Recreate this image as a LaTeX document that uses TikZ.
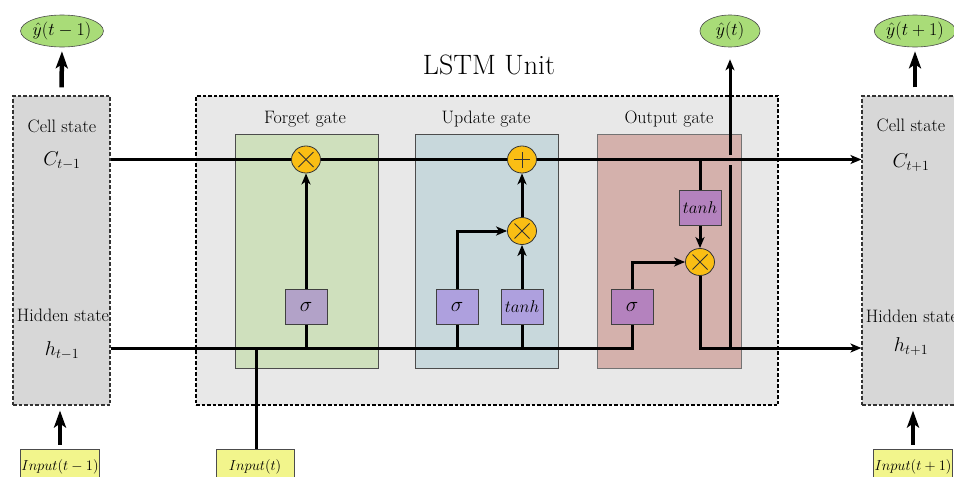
\documentclass[tikz,border=0pt]{standalone}
\usepackage{fix-cm}
\usetikzlibrary{arrows.meta,shapes.geometric}
\pgfdeclarelayer{bg}\pgfdeclarelayer{wires}
\pgfsetlayers{bg,wires,main}
\definecolor{outercol}{RGB}{232,232,232}
\definecolor{sidecol}{RGB}{215,215,215}
\definecolor{forgetcol}{RGB}{207,224,189}
\definecolor{updatecol}{RGB}{200,216,220}
\definecolor{outputcol}{RGB}{212,177,172}
\definecolor{fsigcol}{RGB}{178,162,200}
\definecolor{usigcol}{RGB}{174,160,222}
\definecolor{osigcol}{RGB}{180,130,190}
\definecolor{opcol}{RGB}{250,190,20}
\definecolor{ycol}{RGB}{169,220,120}
\definecolor{incol}{RGB}{242,245,140}
\newcommand\lblfont{\fontsize{18}{20}\selectfont}
\newcommand\mathfont{\fontsize{20}{22}\selectfont}
\begin{document}
\begin{tikzpicture}[x=1pt,y=-1pt,
  wire/.style={line width=3pt},
  arr/.style={wire,-{Stealth[length=11pt,width=9pt,inset=3pt]}},
  bigarr/.style={line width=4.5pt,-{Stealth[length=17pt,width=12pt,inset=4pt]}},
  sidebox/.style={draw=black!80,dashed,dash pattern=on 3.5pt off 2pt,line width=1.1pt,fill=sidecol,minimum width=97pt,minimum height=309pt,inner sep=0},
  gatebox/.style={draw=black!70,line width=1pt,minimum height=234pt,inner sep=0},
  fn/.style={draw=black!75,line width=1pt,minimum width=42pt,minimum height=35pt,inner sep=0,font=\fontsize{17}{19}\selectfont},
  sig/.style={fn,font=\fontsize{21}{23}\selectfont},
  opnode/.style={ellipse,draw=black!80,fill=opcol,minimum width=29pt,minimum height=27pt,inner sep=0,line width=0.8pt},
  timesop/.style={opnode,path picture={
     \draw[line width=1pt] ([shift={(-7.5pt,-7.5pt)}]path picture bounding box.center) -- ([shift={(7.5pt,7.5pt)}]path picture bounding box.center);
     \draw[line width=1pt] ([shift={(-7.5pt,7.5pt)}]path picture bounding box.center) -- ([shift={(7.5pt,-7.5pt)}]path picture bounding box.center);}},
  plusop/.style={opnode,path picture={
     \draw[line width=1pt] ([shift={(-8pt,0pt)}]path picture bounding box.center) -- ([shift={(8pt,0pt)}]path picture bounding box.center);
     \draw[line width=1pt] ([shift={(0pt,-8pt)}]path picture bounding box.center) -- ([shift={(0pt,8pt)}]path picture bounding box.center);}},
  yhat/.style={ellipse,draw=black!70,fill=ycol,minimum width=60pt,minimum height=32pt,inner sep=0pt,line width=0.6pt,font=\fontsize{18}{20}\selectfont},
  inbox/.style={draw=black!70,fill=incol,line width=0.8pt,minimum width=78pt,minimum height=36pt,inner sep=1pt,font=\fontsize{14.5}{16}\selectfont},
  lbl/.style={font=\lblfont,inner sep=1pt},
  mlbl/.style={font=\mathfont,inner sep=1pt}
]
\useasboundingbox (0,0) rectangle (954,477);

\begin{pgfonlayer}{bg}
  \node[draw=black,dashed,dash pattern=on 3.5pt off 2pt,line width=1.2pt,fill=outercol,minimum width=582pt,minimum height=309pt,inner sep=0] (outer) at (487,250.5) {};
  \node[gatebox,fill=forgetcol,minimum width=143pt] (fgate) at (306.5,251) {};
  \node[gatebox,fill=updatecol,minimum width=143pt] (ugate) at (486.5,251) {};
  \node[gatebox,fill=outputcol,minimum width=144pt,draw=black!55] (ogate) at (669,251) {};
  \node[sidebox] (lbox) at (61.5,250.5) {};
  \node[sidebox] (rbox) at (910.5,250.5) {};
\end{pgfonlayer}

% texts
\node[font=\fontsize{28}{32}\selectfont] (title) at (489,65) {LSTM Unit};
\node[lbl] (fl) at (305,119) {Forget gate};
\node[lbl] (ul) at (486,119) {Update gate};
\node[lbl] (ol) at (669,119) {Output gate};
\node[lbl] (lcs) at (62,126) {Cell state};
\node[lbl] (lhs) at (63,315) {Hidden state};
\node[lbl] (rcs) at (911,125) {Cell state};
\node[lbl] (rhs) at (912,316) {Hidden state};
\node[mlbl] (cm1) at (62,161) {$C_{t-1}$};
\node[mlbl] (hm1) at (62,351) {$h_{t-1}$};
\node[mlbl] (cp1) at (911,163) {$C_{t+1}$};
\node[mlbl] (hp1) at (911,347) {$h_{t+1}$};

\coordinate (cy) at (0,159.5);
\coordinate (hy) at (0,348);

% outputs and inputs
\node[yhat] (ylm) at (62,31) {$\hat{y}(t-1)$};
\node[yhat] (yt) at (730,31) {$\hat{y}(t)$};
\node[yhat] (ylp) at (915,31) {$\hat{y}(t+1)$};
\node[inbox] (inm) at (60,467) {$Input(t-1)$};
\node[inbox] (in0) at (255,467) {$Input(t)$};
\node[inbox] (inp) at (913,467) {$Input(t+1)$};

% operators
\node[timesop] (fmul) at (306,159.5) {};
\node[plusop] (uadd) at (522,159.5) {};
\node[timesop] (umul) at (522,231) {};
\node[timesop] (omul) at (700,262) {};
\node[sig,fill=fsigcol] (fsig) at (306,306.5) {$\sigma$};
\node[sig,fill=usigcol] (usig) at (457,306.5) {$\sigma$};
\node[fn,fill=usigcol] (utanh) at (522,306.5) {$tanh$};
\node[sig,fill=osigcol] (osig) at (632,306.5) {$\sigma$};
\node[fn,fill=osigcol] (otanh) at (700,208) {$tanh$};

\begin{pgfonlayer}{wires}
  % cell state line
  \draw[arr] (lbox.east |- cy) -- (rbox.west |- cy);
  % hidden line from left
  \draw[wire] (lbox.east |- hy) -- (osig.south |- hy) -- (osig.south);
  \draw[wire] ([xshift=1pt]in0.north) -- ([xshift=1pt]in0.north |- hy);
  % forget gate
  \draw[wire] (fsig.south) -- (fsig.south |- hy);
  \draw[arr] (fsig.north) -- (fmul.south);
  % update gate
  \draw[wire] (usig.south) -- (usig.south |- hy);
  \draw[wire] (utanh.south) -- (utanh.south |- hy);
  \draw[arr] (usig.north) |- (umul.west);
  \draw[arr] (utanh.north) -- (umul.south);
  \draw[arr] (umul.north) -- (uadd.south);
  % output gate
  \draw[wire] (otanh.north) -- (otanh.north |- cy);
  \draw[arr] (otanh.south) -- (omul.north);
  \draw[arr] (osig.north) |- (omul.west);
  \draw[arr] (omul.south) |- (rbox.west |- hy);
  \draw[wire] (yt.south |- hy) -- ([yshift=-5.5pt]yt.south |- cy);
  \draw[arr,shorten >=12pt] ([yshift=4.5pt]yt.south |- cy) -- (yt.south);
\end{pgfonlayer}

% big arrows
\draw[bigarr,shorten <=8pt,shorten >=4pt] (lbox.north) -- (ylm.south);
\draw[bigarr,shorten <=8pt,shorten >=4pt] (rbox.north -| ylp) -- (ylp.south);
\draw[bigarr,shorten <=4pt,shorten >=5pt] (inm.north) -- (lbox.south -| inm);
\draw[bigarr,shorten <=4pt,shorten >=5pt] (inp.north) -- (rbox.south -| inp);
\end{tikzpicture}
\end{document}
